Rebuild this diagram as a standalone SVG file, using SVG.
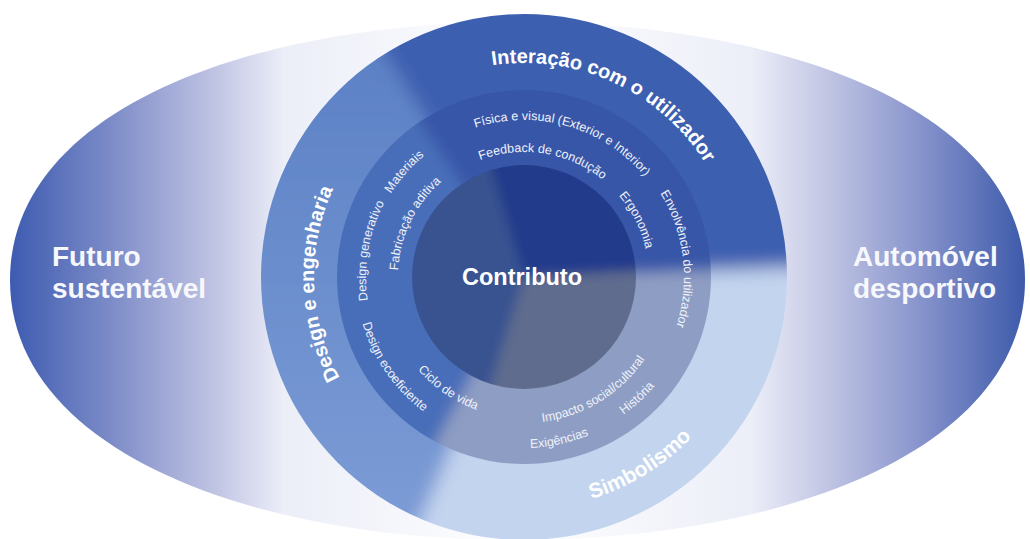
<svg xmlns="http://www.w3.org/2000/svg" xmlns:xlink="http://www.w3.org/1999/xlink" width="1030" height="539" viewBox="0 0 1030 539">
  <style>
    .side { font-family: "Liberation Sans", Arial, sans-serif; font-weight: bold; font-size: 28px; fill: #f7f8fc; }
    .ring-title { font-family: "Liberation Sans", Arial, sans-serif; font-weight: bold; font-size: 20px; fill: #ffffff; }
    .item { font-family: "Liberation Sans", Arial, sans-serif; font-size: 12.5px; fill: #eef2fa; }
    .core { font-family: "Liberation Sans", Arial, sans-serif; font-weight: bold; font-size: 23.5px; fill: #ffffff; }
  </style>
  <defs>
    <linearGradient id="lensFill" gradientUnits="userSpaceOnUse" x1="10" y1="0" x2="1025" y2="0">
      <stop offset="0" stop-color="#3d5bb0"/>
      <stop offset="0.1" stop-color="#7d8cc8"/>
      <stop offset="0.2" stop-color="#bfc3e3"/>
      <stop offset="0.27" stop-color="#eceef8"/>
      <stop offset="0.5" stop-color="#ffffff"/>
      <stop offset="0.73" stop-color="#eceef8"/>
      <stop offset="0.8" stop-color="#c4c8e5"/>
      <stop offset="0.9" stop-color="#8592cb"/>
      <stop offset="1" stop-color="#3d5aaa"/>
    </linearGradient>
    <linearGradient id="outerLeft" gradientUnits="userSpaceOnUse" x1="0" y1="20" x2="0" y2="540">
      <stop offset="0" stop-color="#5a7fc4"/>
      <stop offset="0.5" stop-color="#6b8ecd"/>
      <stop offset="1" stop-color="#7d9cd6"/>
    </linearGradient>
    <filter id="softOuter" filterUnits="userSpaceOnUse" x="150" y="-100" width="750" height="750">
      <feGaussianBlur stdDeviation="9"/>
    </filter>
    <filter id="softMiddle" filterUnits="userSpaceOnUse" x="150" y="-100" width="750" height="750">
      <feGaussianBlur stdDeviation="7"/>
    </filter>
    <filter id="softInner" filterUnits="userSpaceOnUse" x="150" y="-100" width="750" height="750">
      <feGaussianBlur stdDeviation="6"/>
    </filter>
    <clipPath id="discOuter"><circle cx="524" cy="277" r="263"/></clipPath>
    <clipPath id="discMiddle"><circle cx="524" cy="277" r="187"/></clipPath>
    <clipPath id="discInner"><circle cx="524" cy="277" r="112"/></clipPath>

    <!-- baselines for curved labels, centred on (524,277) -->
    <path id="arcInteracao" d="M400.3,102.4 A214,214 0 0 1 737.1,257.2"/>
    <path id="arcDesign" d="M425.4,462.4 A210,210 0 0 1 412.7,98.9"/>
    <path id="arcSimbolismo" d="M413.7,481.1 A232,232 0 0 0 755.9,270.5"/>
    <path id="arcFisica" d="M415.1,163.9 A157,157 0 0 1 676.4,239.3"/>
    <path id="arcFeedback" d="M427.1,198.0 A125,125 0 0 1 640.9,232.6"/>
    <path id="arcErgonomia" d="M531.0,152.2 A125,125 0 0 1 628.6,345.4"/>
    <path id="arcEnvolvencia" d="M587.0,129.9 A160,160 0 0 1 619.8,405.1"/>
    <path id="arcMateriais" d="M375.3,327.4 A157,157 0 0 1 554.8,123.0"/>
    <path id="arcGenerativo" d="M423.1,398.6 A158,158 0 0 1 469.2,128.8"/>
    <path id="arcFabricacao" d="M419.5,347.5 A126,126 0 0 1 515.2,151.3"/>
    <path id="arcEcoeficiente" d="M372.1,205.2 A168,168 0 0 0 537.8,444.4"/>
    <path id="arcCiclo" d="M383.4,266.4 A141,141 0 0 0 585.1,404.1"/>
    <path id="arcImpacto" d="M454.3,405.3 A146,146 0 0 0 670.0,273.2"/>
    <path id="arcHistoria" d="M474.3,439.6 A170,170 0 0 0 689.6,238.8"/>
    <path id="arcExigencias" d="M397.3,391.9 A171,171 0 0 0 686.8,329.3"/>
  </defs>

  <!-- background lens between the two outer themes -->
  <g id="lens">
    <path d="M10,280 C10,110 250,22 517,22 C784,22 1025,110 1025,280 C1025,450 784,540 517,540 C250,540 10,450 10,280 Z" fill="url(#lensFill)"/>
    <text class="side" x="52" y="266">Futuro</text>
    <text class="side" x="52" y="298">sustentável</text>
    <text class="side" x="853" y="266">Automóvel</text>
    <text class="side" x="853" y="298">desportivo</text>
  </g>

  <!-- outer ring: three themes -->
  <g id="ring-outer" clip-path="url(#discOuter)">
    <g filter="url(#softOuter)">
      <path d="M524,277 L365.0,22.6 A300,300 0 0 1 823.8,266.5 Z" fill="#3c5fb0"/>
      <path d="M524,277 L823.8,266.5 A300,300 0 0 1 406.8,553.2 Z" fill="#c3d4ee"/>
      <path d="M524,277 L406.8,553.2 A300,300 0 0 1 365.0,22.6 Z" fill="url(#outerLeft)"/>
    </g>
  </g>

  <!-- middle ring: topics -->
  <g id="ring-middle" clip-path="url(#discMiddle)">
    <g filter="url(#softMiddle)">
      <path d="M524,277 L356.2,28.3 A300,300 0 0 1 823.8,266.5 Z" fill="#3757a8"/>
      <path d="M524,277 L823.8,266.5 A300,300 0 0 1 383.2,541.9 Z" fill="#8e9dc3"/>
      <path d="M524,277 L383.2,541.9 A300,300 0 0 1 356.2,28.3 Z" fill="#4a6eb9"/>
    </g>
  </g>

  <!-- inner core -->
  <g id="core" clip-path="url(#discInner)">
    <g filter="url(#softInner)">
      <path d="M524,277 L436.3,-9.9 A300,300 0 0 1 823.6,261.3 Z" fill="#243a8b"/>
      <path d="M524,277 L823.6,261.3 A300,300 0 0 1 436.3,563.9 Z" fill="#5e6c8d"/>
      <path d="M524,277 L436.3,563.9 A300,300 0 0 1 436.3,-9.9 Z" fill="#385390"/>
    </g>
  </g>

  <g id="core-label">
    <text class="core" x="522" y="285" text-anchor="middle">Contributo</text>
  </g>

  <g id="theme-labels">
    <text class="ring-title"><textPath href="#arcInteracao" xlink:href="#arcInteracao" startOffset="50%" text-anchor="middle">Interação com o utilizador</textPath></text>
    <text class="ring-title"><textPath href="#arcDesign" xlink:href="#arcDesign" startOffset="50%" text-anchor="middle">Design e engenharia</textPath></text>
    <text class="ring-title" style="font-size:21px"><textPath href="#arcSimbolismo" xlink:href="#arcSimbolismo" startOffset="50%" text-anchor="middle">Simbolismo</textPath></text>
  </g>

  <g id="topic-labels">
    <text class="item"><textPath href="#arcFisica" xlink:href="#arcFisica" startOffset="50%" text-anchor="middle">Física e visual (Exterior e Interior)</textPath></text>
    <text class="item"><textPath href="#arcFeedback" xlink:href="#arcFeedback" startOffset="50%" text-anchor="middle">Feedback de condução</textPath></text>
    <text class="item"><textPath href="#arcErgonomia" xlink:href="#arcErgonomia" startOffset="50%" text-anchor="middle">Ergonomia</textPath></text>
    <text class="item"><textPath href="#arcEnvolvencia" xlink:href="#arcEnvolvencia" startOffset="50%" text-anchor="middle">Envolvência do utilizador</textPath></text>
    <text class="item"><textPath href="#arcMateriais" xlink:href="#arcMateriais" startOffset="50%" text-anchor="middle">Materiais</textPath></text>
    <text class="item"><textPath href="#arcGenerativo" xlink:href="#arcGenerativo" startOffset="50%" text-anchor="middle">Design generativo</textPath></text>
    <text class="item"><textPath href="#arcFabricacao" xlink:href="#arcFabricacao" startOffset="50%" text-anchor="middle">Fabricação aditiva</textPath></text>
    <text class="item"><textPath href="#arcEcoeficiente" xlink:href="#arcEcoeficiente" startOffset="50%" text-anchor="middle">Design ecoeficiente</textPath></text>
    <text class="item"><textPath href="#arcCiclo" xlink:href="#arcCiclo" startOffset="50%" text-anchor="middle">Ciclo de vida</textPath></text>
    <text class="item"><textPath href="#arcImpacto" xlink:href="#arcImpacto" startOffset="50%" text-anchor="middle">Impacto social/cultural</textPath></text>
    <text class="item"><textPath href="#arcHistoria" xlink:href="#arcHistoria" startOffset="50%" text-anchor="middle">História</textPath></text>
    <text class="item"><textPath href="#arcExigencias" xlink:href="#arcExigencias" startOffset="50%" text-anchor="middle">Exigências</textPath></text>
  </g>
</svg>
